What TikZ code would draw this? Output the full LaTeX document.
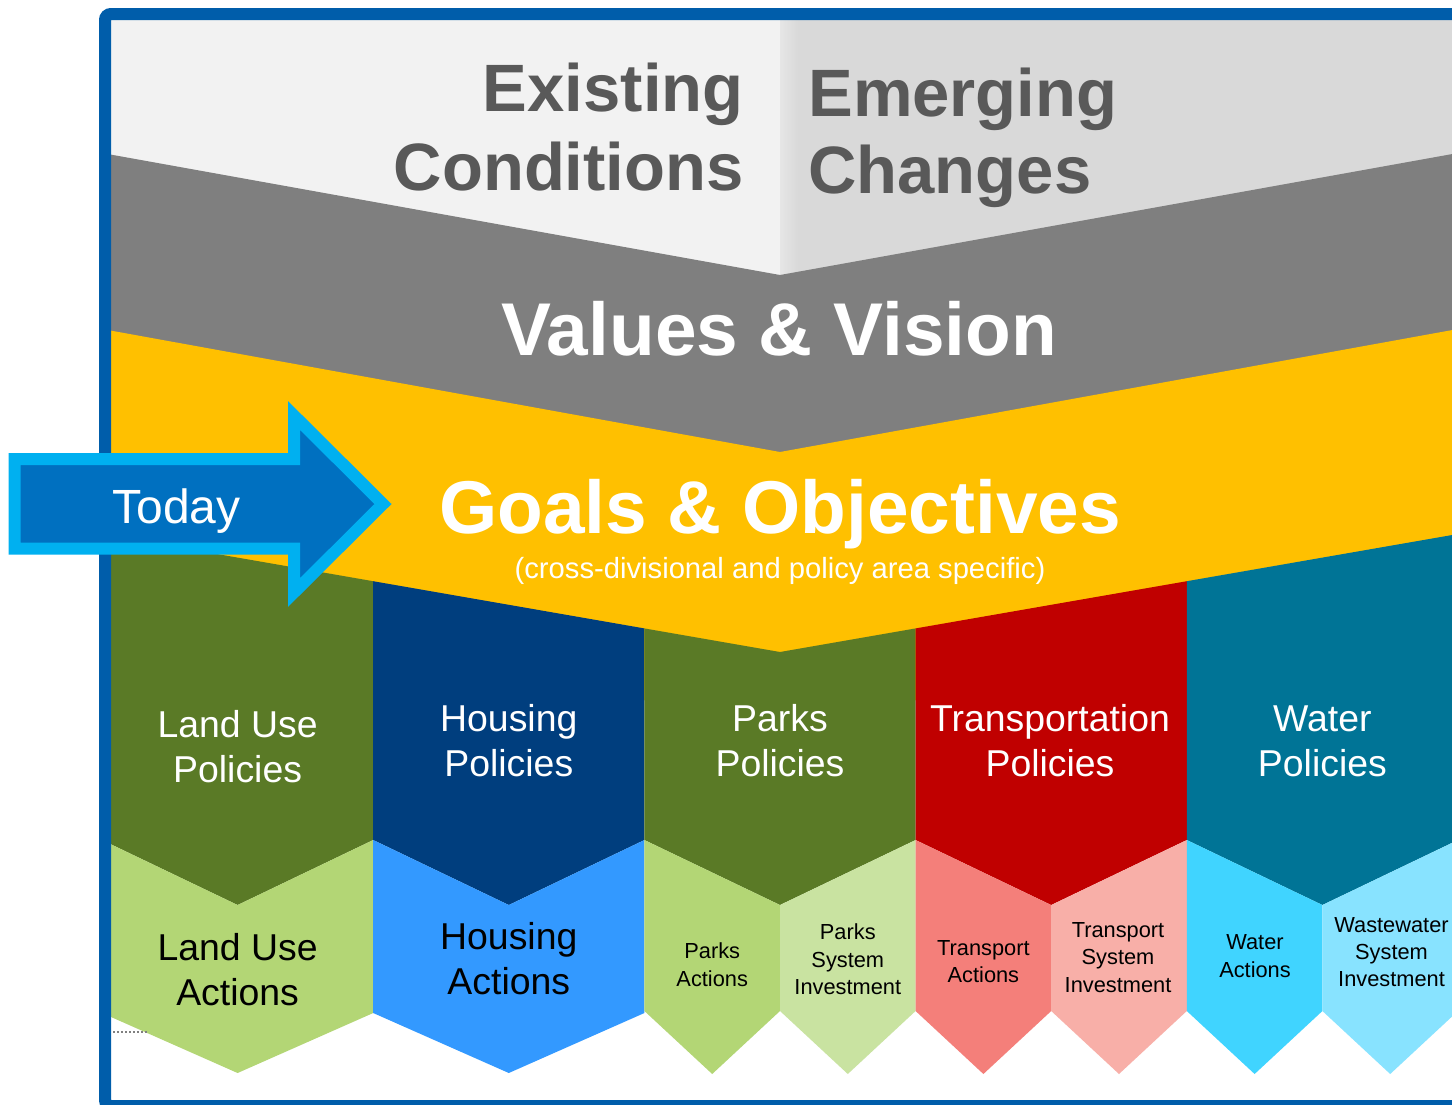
\documentclass[tikz,border=0pt]{standalone}
\usepackage{fontspec}
\setmainfont{Liberation Sans}
\usetikzlibrary{positioning}
\definecolor{frameblue}{HTML}{005DAA}
\definecolor{ltop}{HTML}{F2F2F2}
\definecolor{rtop}{HTML}{D9D9D9}
\definecolor{ridge}{HTML}{E6E6E6}
\definecolor{toptext}{HTML}{595959}
\definecolor{vision}{HTML}{7F7F7F}
\definecolor{goals}{HTML}{FFC000}
\definecolor{lugreen}{HTML}{5A7A26}
\definecolor{luaction}{HTML}{B3D675}
\definecolor{pkinvest}{HTML}{C9E3A1}
\definecolor{hsnavy}{HTML}{003E7E}
\definecolor{hsaction}{HTML}{3399FF}
\definecolor{trred}{HTML}{C00000}
\definecolor{traction}{HTML}{F47F7A}
\definecolor{trinvest}{HTML}{F8AFA8}
\definecolor{wtteal}{HTML}{007496}
\definecolor{wtaction}{HTML}{40D4FF}
\definecolor{wtinvest}{HTML}{88E3FF}
\definecolor{todayfill}{HTML}{0070C0}
\definecolor{todayline}{HTML}{00B0F0}
\begin{document}
\begin{tikzpicture}[x=0.5pt, y=-0.5pt,
  big text/.style={font=\fontsize{37.4}{44}\selectfont\bfseries, text=white, inner sep=0pt},
  top text/.style={font=\fontsize{33.5}{39.5}\selectfont\bfseries, text=toptext, inner sep=0pt},
  pol text/.style={font=\fontsize{18.7}{22.5}\selectfont, text=white, align=center, inner sep=0pt},
  act text/.style={font=\fontsize{18.7}{22.5}\selectfont, text=black, align=center, inner sep=0pt},
  small text/.style={font=\fontsize{10.9}{13.7}\selectfont, text=black, align=center, inner sep=0pt}]
\useasboundingbox (0,0) rectangle (1452,1104);
\clip (0,0) rectangle (1452,1104);
\fill[white] (0,0) rectangle (1452,1104);
% top bands
\fill[ltop] (102,20) rectangle (780,300);
\fill[rtop] (780,20) rectangle (1458,300);
\shade[left color=ridge, right color=rtop] (780,20) rectangle (798,300);
\fill[vision] (102,153) -- (780,275) -- (1458,153) -- (1458,700) -- (102,700) -- cycle;
\fill[goals] (102,329) -- (780,452) -- (1458,329) -- (1458,700) -- (102,700) -- cycle;
% land use
\fill[lugreen] (102,534) -- (373.2,581.2) -- (373.2,840) -- (237.6,905) -- (102,840) -- cycle;
\fill[luaction] (102,840) -- (237.6,905) -- (373.2,840) -- (373.2,1013) -- (237.6,1073) -- (102,1013) -- cycle;
% housing
\fill[hsnavy] (373.2,581.2) -- (644.4,628.4) -- (644.4,840) -- (508.8,905) -- (373.2,840) -- cycle;
\fill[hsaction] (373.2,840) -- (508.8,905) -- (644.4,840) -- (644.4,1013) -- (508.8,1073) -- (373.2,1013) -- cycle;
% parks
\fill[lugreen] (644.4,628.4) -- (780,652) -- (915.6,628.4) -- (915.6,840) -- (780,905) -- (644.4,840) -- cycle;
\fill[luaction] (644.4,840) -- (780,905) -- (780,1011) -- (712.2,1074) -- (644.4,1011) -- cycle;
\fill[pkinvest] (780,905) -- (915.6,840) -- (915.6,1011) -- (847.8,1074) -- (780,1011) -- cycle;
% transportation
\fill[trred] (915.6,628.4) -- (1186.8,581.2) -- (1186.8,840) -- (1051.2,905) -- (915.6,840) -- cycle;
\fill[traction] (915.6,840) -- (1051.2,905) -- (1051.2,1011) -- (983.4,1074) -- (915.6,1011) -- cycle;
\fill[trinvest] (1051.2,905) -- (1186.8,840) -- (1186.8,1011) -- (1119,1074) -- (1051.2,1011) -- cycle;
% water
\fill[wtteal] (1186.8,581.2) -- (1458,534) -- (1458,840) -- (1322.4,905) -- (1186.8,840) -- cycle;
\fill[wtaction] (1186.8,840) -- (1322.4,905) -- (1322.4,1011) -- (1254.6,1074) -- (1186.8,1011) -- cycle;
\fill[wtinvest] (1322.4,905) -- (1458,840) -- (1458,1011) -- (1390.2,1074) -- (1322.4,1011) -- cycle;
\draw[gray, densely dotted, line width=1pt] (113,1032) -- (148,1032);
% frame and arrow
\draw[frameblue, line width=6pt, rounded corners=3pt] (105,14) rectangle (1475,1106);
\filldraw[fill=todayfill, draw=todayline, line width=6pt, line join=miter]
  (14.5,459) -- (294,459) -- (294,415.5) -- (383,504) -- (294,592.5) -- (294,548.5) -- (14.5,548.5) -- cycle;
\node[font=\fontsize{24}{28}\selectfont, text=white, inner sep=0pt, anchor=base] (today) at (176.5,523) {Today};
% headings
\node[top text, anchor=base east] (exist) at (744,111) {Existing};
\node[top text, anchor=base east] (cond) at (744,190) {Conditions};
\node[top text, anchor=base west] (emerg) at (808,116) {Emerging};
\node[top text, anchor=base west] (chg) at (808,193) {Changes};
\node[big text, anchor=base] (values) at (779,355) {Values \& Vision};
\node[big text, anchor=base] (goalsobj) at (780,533) {Goals \& Objectives};
\node[font=\fontsize{14.6}{18}\selectfont, text=white, inner sep=0pt, anchor=base] (goalsub) at (780,578) {(cross-divisional and policy area specific)};
% policies
\node[pol text] (lupol) at (237.6,746.5) {Land Use\\Policies};
\node[pol text] (hspol) at (508.8,740.5) {Housing\\Policies};
\node[pol text] (pkpol) at (780,741) {Parks\\Policies};
\node[pol text] (trpol) at (1050,741) {Transportation\\Policies};
\node[pol text] (wtpol) at (1322.4,741) {Water\\Policies};
% actions
\node[act text] (luact) at (237.6,969.5) {Land Use\\Actions};
\node[act text] (hsact) at (508.8,958.5) {Housing\\Actions};
\node[small text] (pkact) at (712.2,964.5) {Parks\\Actions};
\node[small text] (pkinv) at (847.8,959.5) {Parks\\System\\Investment};
\node[small text] (tract) at (983.4,961.5) {Transport\\Actions};
\node[small text] (trinv) at (1118,957.5) {Transport\\System\\Investment};
\node[small text] (wtact) at (1255,956) {Water\\Actions};
\node[small text] (wtinv) at (1391.5,952) {Wastewater\\System\\Investment};
\end{tikzpicture}
\end{document}
